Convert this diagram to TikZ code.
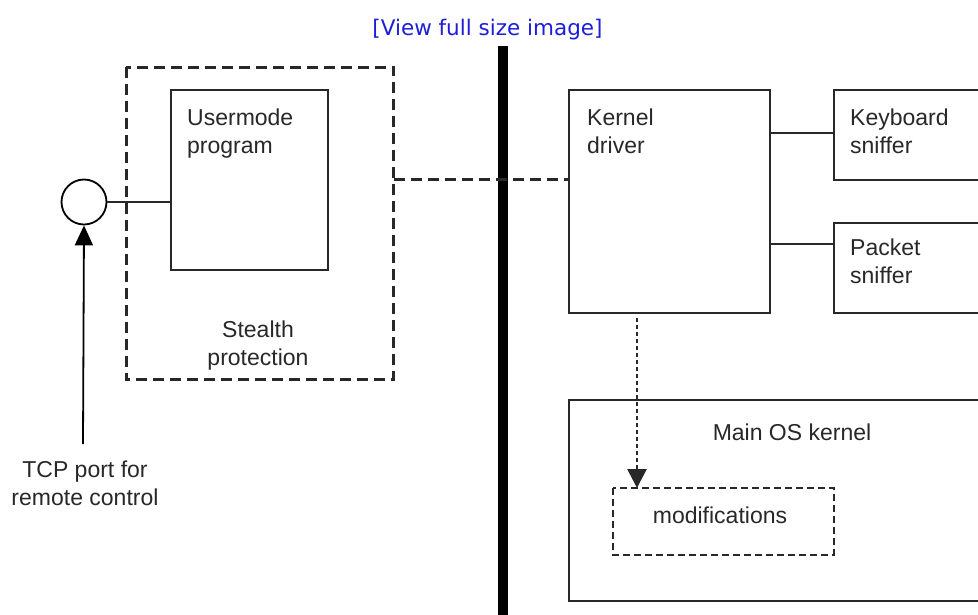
\documentclass[tikz,border=0pt]{standalone}
\usepackage{fontspec}
\setmainfont{Liberation Sans}
\newfontfamily\linkfont{DejaVu Sans}
\usetikzlibrary{arrows.meta}
\definecolor{linkblue}{RGB}{30,30,215}
\definecolor{ink}{RGB}{40,40,40}
\tikzset{
  box/.style={draw=ink, line width=1.8pt, inner sep=0pt, anchor=north west, rectangle},
  lbl/.style={inner sep=0pt, text=ink, font=\fontsize{23}{28}\selectfont, align=left},
  conn/.style={draw=ink, line width=1.8pt},
  bigdash/.style={draw=ink, line width=3pt, dash pattern=on 11pt off 6pt},
  smalldash/.style={draw=ink, line width=2pt, dash pattern=on 7pt off 4pt},
  dotarrow/.style={draw=ink, line width=2.8pt, dash pattern=on 4pt off 3pt, -{Triangle[length=19pt,width=19pt]}},
  uparrow/.style={draw=black, line width=1.8pt, -{Triangle[length=20pt,width=18pt]}},
}
\begin{document}
\begin{tikzpicture}[x=1pt,y=-1pt]
\useasboundingbox (0,0) rectangle (978,614);
\clip (0,0) rectangle (978,614);
\fill[white] (0,0) rectangle (978,614);

% link text
\node[anchor=base, inner sep=0pt, text=linkblue, font=\linkfont\fontsize{21.5}{26}\selectfont] (link) at (487.5,35) {[View full size image]};

% thick separator bar
\coordinate (bartop) at (503,46);
\coordinate (barbot) at (503,616);
\draw[line width=10pt] (bartop) -- (barbot);

% stealth protection (dashed)
\node[box, draw=none, minimum width=266pt, minimum height=311pt] (stealth) at (126,67) {};
\draw[bigdash] (stealth.north west) rectangle (stealth.south east);
\node[lbl, anchor=north, align=center] (stealthlbl) at (258,320.5) {Stealth\\protection};

% usermode program
\node[box, minimum width=157pt, minimum height=180pt] (user) at (170,89) {};
\node[lbl, anchor=north west] (userlbl) at (187,108.5) {Usermode\\program};

% circle (TCP port)
\node[draw=black, line width=1.8pt, circle, minimum size=45pt, inner sep=0pt] (circ) at (84,202) {};
\draw[conn] (circ.east) -- (user.west |- circ);
\coordinate (tcpend) at (83,444);
\draw[uparrow] (tcpend) -- (circ.south);
\node[lbl, anchor=north, align=center] (tcplbl) at (85,460.5) {TCP port for\\remote control};

% kernel driver
\node[box, minimum width=201pt, minimum height=223pt] (kd) at (568,89) {};
\node[lbl, anchor=north west] (kdlbl) at (587,108.5) {Kernel\\driver};

% dashed link stealth -> kernel driver
\coordinate (dl) at (0,179.5);
\draw[bigdash] (stealth.east |- dl) -- (kd.west |- dl);

% keyboard sniffer
\node[box, minimum width=200pt, minimum height=90pt] (kb) at (833,89) {};
\node[lbl, anchor=north west] (kblbl) at (850,108.5) {Keyboard\\sniffer};
\coordinate (kbl) at (0,133);
\draw[conn] (kd.east |- kbl) -- (kb.west |- kbl);

% packet sniffer
\node[box, minimum width=200pt, minimum height=90pt] (ps) at (833,222) {};
\node[lbl, anchor=north west] (pslbl) at (850,238.5) {Packet\\sniffer};
\coordinate (psl) at (0,244);
\draw[conn] (kd.east |- psl) -- (ps.west |- psl);

% main OS kernel
\node[box, minimum width=450pt, minimum height=201pt] (os) at (568,399) {};
\node[lbl, anchor=base] (oslbl) at (792,440) {Main OS kernel};

% modifications
\node[box, draw=none, minimum width=219pt, minimum height=65pt] (mod) at (613,488) {};
\draw[smalldash] (mod.north west) rectangle (mod.south east);
\node[lbl, anchor=base] (modlbl) at (720,523) {modifications};

% dotted arrow kernel driver -> modifications
\coordinate (ds) at (637,318);
\draw[dotarrow] (ds) -- (ds |- mod.north);
\end{tikzpicture}
\end{document}
